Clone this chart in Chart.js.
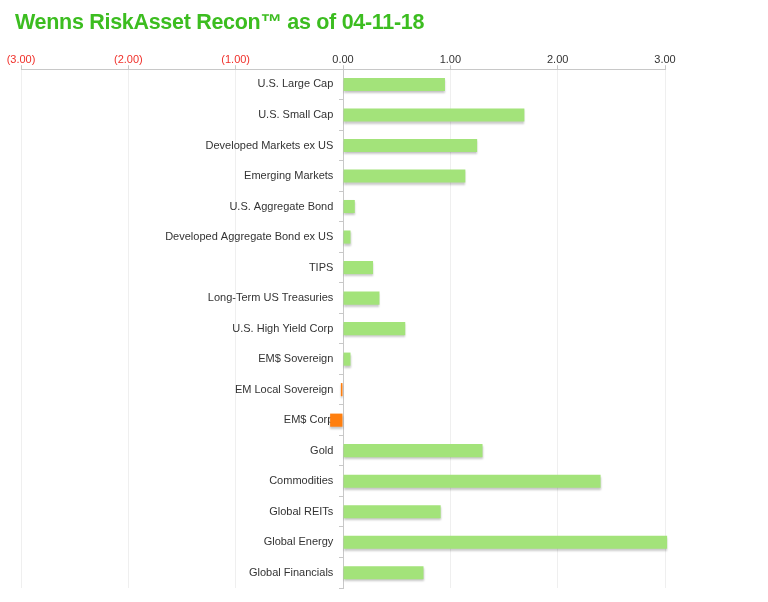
<!DOCTYPE html>
<html>
<head>
  <title>Wenns RiskAsset Recon</title>
  <script src="https://cdn.jsdelivr.net/npm/chart.js@4"></script>
  <style>
    body {
      margin: 0;
      background: #fff;
    }

    #wrap {
      position: relative;
      width: 768px;
      height: 602px;
    }

    #title {
      position: absolute;
      left: 15px;
      top: 10px;
      font-family: "Liberation Sans", Arial, sans-serif;
      font-weight: bold;
      font-size: 21.5px;
      color: #3cbd20;
      letter-spacing: -0.3px;
    }
  </style>
</head>
<body>
  <div id="wrap">
    <canvas id="chart" width="768" height="602"></canvas>
    <div id="title">Wenns RiskAsset Recon™ as of 04-11-18</div>
  </div>

  <script>
    // categories, top to bottom
    var assetClasses = [
      'U.S. Large Cap', 'U.S. Small Cap', 'Developed Markets ex US', 'Emerging Markets',
      'U.S. Aggregate Bond', 'Developed Aggregate Bond ex US', 'TIPS', 'Long-Term US Treasuries',
      'U.S. High Yield Corp', 'EM$ Sovereign', 'EM Local Sovereign', 'EM$ Corp',
      'Gold', 'Commodities', 'Global REITs', 'Global Energy', 'Global Financials'
    ];

    var reconValues = [
      0.95, 1.69, 1.25, 1.14,
      0.11, 0.07, 0.28, 0.34,
      0.58, 0.07, -0.02, -0.12,
      1.30, 2.40, 0.91, 3.02, 0.75
    ];

    var axisMin = -3;
    var axisMax = 3;

    var GREEN = '#a3e37a';
    var ORANGE = '#ff7f0f';
    var FONT = '"Liberation Sans", Arial, sans-serif';

    // soft shadow under the bars
    var barShadow = {
      id: 'barShadow',
      beforeDatasetsDraw: function (chart) {
        var c = chart.ctx;
        c.save();
        c.shadowColor = 'rgba(0,0,0,0.22)';
        c.shadowBlur = 2;
        c.shadowOffsetY = 2;
      },
      afterDatasetsDraw: function (chart) {
        chart.ctx.restore();
      }
    };

    var ctx = document.getElementById('chart').getContext('2d');
    var myChart = new Chart(ctx, {
      type: 'bar',
      data: {
        labels: assetClasses,
        datasets: [{
          data: reconValues,
          backgroundColor: reconValues.map(v => v < 0 ? ORANGE : GREEN),
          borderWidth: 0,
          barPercentage: 0.43,
          categoryPercentage: 1,
          clip: false
        }]
      },
      plugins: [barShadow],
      options: {
        indexAxis: 'y',
        responsive: false,
        animation: false,
        layout: {
          padding: { top: 54, left: 21, right: 103, bottom: 14 }
        },
        plugins: {
          legend: { display: false },
          tooltip: { enabled: false }
        },
        scales: {
          x: {
            position: 'top',
            min: axisMin,
            max: axisMax,
            ticks: {
              stepSize: 1,
              padding: -1,
              font: { family: FONT, size: 11 },
              color: c => c.tick.value < 0 ? '#f0302a' : '#333',
              callback: v => v < 0 ? '(' + Math.abs(v).toFixed(2) + ')' : v.toFixed(2)
            },
            grid: {
              color: '#efefef',
              tickColor: '#c8c8c8',
              tickLength: 4
            },
            border: { color: '#c8c8c8' }
          },
          // axis line + small ticks at zero
          y: {
            position: { x: 0 },
            afterFit: function (scale) { scale.width = 0; },
            ticks: { display: false },
            grid: {
              offset: true,
              drawOnChartArea: false,
              tickLength: 4,
              tickColor: '#c8c8c8'
            },
            border: { color: '#c8c8c8' }
          },
          // category names, a little left of zero
          yLabels: {
            type: 'category',
            axis: 'y',
            labels: assetClasses,
            position: { x: -0.09 },
            afterFit: function (scale) { scale.width = 0; },
            ticks: {
              font: { family: FONT, size: 11 },
              color: '#333'
            },
            grid: { display: false },
            border: { display: false }
          }
        }
      }
    });
  </script>
</body>
</html>
